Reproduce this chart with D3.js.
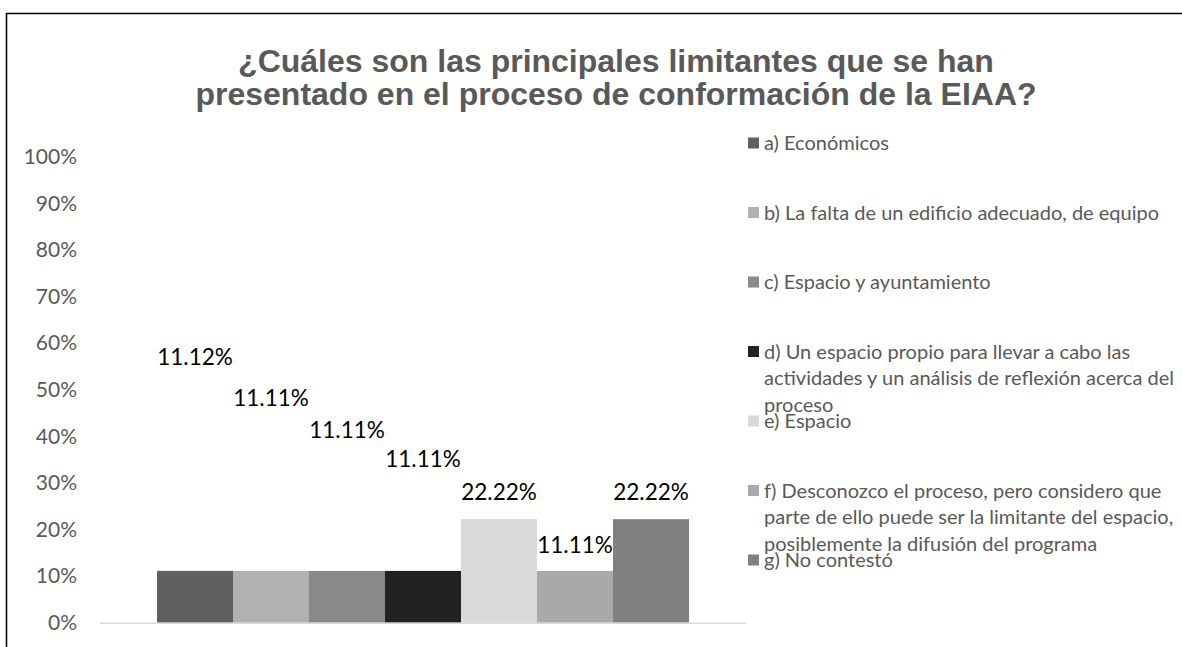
<!DOCTYPE html>
<html>
<head>
<meta charset="utf-8">
<script src="https://cdn.jsdelivr.net/npm/d3@7/dist/d3.min.js"></script>
<style>
  html, body { margin: 0; padding: 0; background: #fff; }
  svg { display: block; }
</style>
</head>
<body>
<svg id="chart" width="1182" height="647"></svg>
<script>
// Survey answers (one bar per answer option)
const categories = [
  "a) Económicos",
  "b) La falta de un edificio adecuado, de equipo",
  "c) Espacio y ayuntamiento",
  "d) Un espacio propio para llevar a cabo las actividades y un análisis de reflexión acerca del proceso",
  "e) Espacio",
  "f) Desconozco el proceso, pero considero que parte de ello puede ser la limitante del espacio, posiblemente la difusión del programa",
  "g) No contestó"
];
const values = [11.12, 11.11, 11.11, 11.11, 22.22, 11.11, 22.22];
// Height (in axis percent) at which each value label sits
const labelLevels = [57.0, 48.2, 41.3, 35.1, 28.0, 16.7, 28.0];
const colors = ["#606060", "#b1b1b1", "#898989", "#222222", "#d9d9d9", "#a9a9a9", "#808080"];
const yTicks = [0, 10, 20, 30, 40, 50, 60, 70, 80, 90, 100];
// Legend entries broken into display lines
const legendLines = [
  ["a) Económicos"],
  ["b) La falta de un edificio adecuado, de equipo"],
  ["c) Espacio y ayuntamiento"],
  ["d) Un espacio propio para llevar a cabo las", "actividades y un análisis de reflexión acerca del", "proceso"],
  ["e) Espacio"],
  ["f) Desconozco el proceso, pero considero que", "parte de ello puede ser la limitante del espacio,", "posiblemente la difusión del programa"],
  ["g) No contestó"]
];
const titleLines = [
  "¿Cuáles son las principales limitantes que se han",
  "presentado en el proceso de conformación de la EIAA?"
];

const svg = d3.select("#chart");
const bodyFont = "Lato, 'Open Sans', sans-serif";

// Chart frame
svg.append("rect")
  .attr("x", 6.5).attr("y", 13.5)
  .attr("width", 1200).attr("height", 700)
  .attr("fill", "none").attr("stroke", "#000").attr("stroke-width", 1.5);

// Title
svg.append("g")
  .selectAll("text")
  .data(titleLines)
  .join("text")
  .attr("x", 616)
  .attr("y", (d, i) => 72 + i * 33)
  .attr("text-anchor", "middle")
  .attr("font-family", "'Liberation Sans', Arial, sans-serif")
  .attr("font-weight", "bold")
  .attr("font-size", 32)
  .attr("fill", "#595959")
  .text(d => d);

// Scales
const plot = { left: 100, right: 746, top: 156.7, bottom: 622.7 };
const x = d3.scaleBand()
  .domain(categories)
  .range([plot.left, plot.right])
  .paddingInner(0)
  .paddingOuter(0.75);
const y = d3.scaleLinear()
  .domain([0, 100])
  .range([plot.bottom, plot.top]);

// Y axis labels only (no line, no ticks)
const yAxis = d3.axisLeft(y)
  .tickValues(yTicks)
  .tickFormat(d => d + "%")
  .tickSize(0)
  .tickPadding(0);
const yg = svg.append("g")
  .attr("transform", "translate(77,0)")
  .call(yAxis);
yg.select(".domain").remove();
yg.selectAll("text")
  .attr("font-family", bodyFont)
  .attr("font-size", 21)
  .attr("fill", "#595959");

// Bars
svg.append("g")
  .selectAll("rect")
  .data(values)
  .join("rect")
  .attr("x", (d, i) => x(categories[i]))
  .attr("y", d => y(d))
  .attr("width", x.bandwidth())
  .attr("height", d => y(0) - y(d))
  .attr("fill", (d, i) => colors[i]);

// Category baseline
svg.append("line")
  .attr("x1", plot.left).attr("x2", plot.right)
  .attr("y1", y(0) + 0.5).attr("y2", y(0) + 0.5)
  .attr("stroke", "#d9d9d9").attr("stroke-width", 1.5);

// Value labels
svg.append("g")
  .selectAll("text")
  .data(values)
  .join("text")
  .attr("x", (d, i) => x(categories[i]) + x.bandwidth() / 2)
  .attr("y", (d, i) => y(labelLevels[i]))
  .attr("dy", "0.35em")
  .attr("text-anchor", "middle")
  .attr("font-family", bodyFont)
  .attr("font-size", 22.5)
  .attr("fill", "#000")
  .text(d => d.toFixed(2) + "%");

// Legend
const legendTop = 143, legendStep = 69.5, lineStep = 26.5;
const legend = svg.append("g");
legendLines.forEach((lines, i) => {
  const cy = legendTop + i * legendStep;
  legend.append("rect")
    .attr("x", 748).attr("y", cy - 5.5)
    .attr("width", 11).attr("height", 11)
    .attr("fill", colors[i]);
  legend.append("text")
    .attr("font-family", bodyFont)
    .attr("font-size", 20)
    .attr("fill", "#595959")
    .selectAll("tspan")
    .data(lines)
    .join("tspan")
    .attr("x", 764)
    .attr("y", (d, j) => cy + j * lineStep)
    .attr("dy", "0.35em")
    .text(d => d);
});
</script>
</body>
</html>
